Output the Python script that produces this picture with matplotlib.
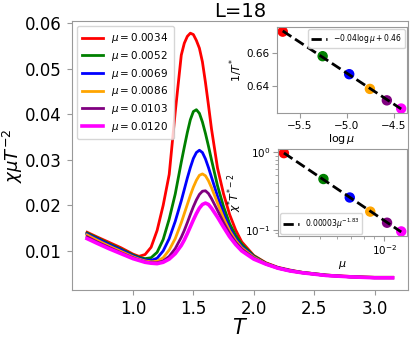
import numpy as np
import matplotlib
matplotlib.use('Agg')
import matplotlib.pyplot as plt
from matplotlib.ticker import NullFormatter

# temperature grid shared by all curves
T = [0.62, 0.7, 0.8, 0.9, 1.0, 1.05, 1.1, 1.15, 1.2, 1.25, 1.3, 1.35, 1.4,
     1.425, 1.45, 1.475, 1.5, 1.525, 1.55, 1.575, 1.6, 1.625, 1.65, 1.7,
     1.75, 1.8, 1.85, 1.9, 2.0, 2.1, 2.2, 2.3, 2.4, 2.6, 2.8, 3.0, 3.15]

mu_values = [0.0034, 0.0052, 0.0069, 0.0086, 0.0103, 0.0120]
colors = ['red', 'green', 'blue', 'orange', 'purple', 'magenta']

# chi * mu * T^-2
chi_red = [0.0141, 0.0131, 0.0119, 0.0107, 0.0093, 0.0088, 0.0092, 0.0108,
           0.0145, 0.0200, 0.0268, 0.0405, 0.0530, 0.0556, 0.0571, 0.0578,
           0.0575, 0.0562, 0.0545, 0.0515, 0.0470, 0.0420, 0.0368, 0.0282,
           0.0225, 0.0180, 0.0146, 0.0120, 0.0090, 0.0074, 0.0064, 0.0058,
           0.0053, 0.0047, 0.0044, 0.0042, 0.0042]
chi_green = [0.0139, 0.0129, 0.0116, 0.0104, 0.0091, 0.0086, 0.0083, 0.0085,
             0.0097, 0.0125, 0.0170, 0.0225, 0.0295, 0.0328, 0.0360, 0.0388,
             0.0406, 0.0410, 0.0402, 0.0383, 0.0358, 0.0330, 0.0300, 0.0243,
             0.0197, 0.0160, 0.0134, 0.0115, 0.0089, 0.0073, 0.0063, 0.0057,
             0.0053, 0.0047, 0.0043, 0.0042, 0.0042]
chi_blue = [0.0137, 0.0127, 0.0114, 0.0102, 0.0089, 0.0084, 0.0080, 0.0079,
            0.0084, 0.0100, 0.0127, 0.0165, 0.0210, 0.0235, 0.0260, 0.0283,
            0.0303, 0.0316, 0.0321, 0.0316, 0.0302, 0.0283, 0.0262, 0.0220,
            0.0182, 0.0150, 0.0127, 0.0110, 0.0087, 0.0072, 0.0063, 0.0057,
            0.0052, 0.0046, 0.0043, 0.0041, 0.0041]
chi_orange = [0.0135, 0.0124, 0.0111, 0.0099, 0.0087, 0.0082, 0.0078, 0.0076,
              0.0077, 0.0085, 0.0102, 0.0127, 0.0162, 0.0182, 0.0202, 0.0222,
              0.0240, 0.0255, 0.0266, 0.0269, 0.0265, 0.0254, 0.0239, 0.0205,
              0.0172, 0.0144, 0.0123, 0.0107, 0.0086, 0.0072, 0.0062, 0.0056,
              0.0052, 0.0046, 0.0043, 0.0041, 0.0041]
chi_purple = [0.0131, 0.0120, 0.0108, 0.0096, 0.0085, 0.0080, 0.0076, 0.0074,
              0.0074, 0.0078, 0.0088, 0.0105, 0.0130, 0.0145, 0.0162, 0.0180,
              0.0197, 0.0212, 0.0224, 0.0231, 0.0232, 0.0226, 0.0215, 0.0189,
              0.0162, 0.0138, 0.0119, 0.0104, 0.0084, 0.0071, 0.0062, 0.0056,
              0.0052, 0.0046, 0.0043, 0.0041, 0.0041]
chi_magenta = [0.0127, 0.0117, 0.0105, 0.0094, 0.0083, 0.0079, 0.0075, 0.0073,
               0.0072, 0.0075, 0.0082, 0.0094, 0.0112, 0.0124, 0.0138, 0.0153,
               0.0168, 0.0182, 0.0194, 0.0202, 0.0205, 0.0202, 0.0194, 0.0174,
               0.0152, 0.0131, 0.0114, 0.0100, 0.0082, 0.0071, 0.0062, 0.0056,
               0.0052, 0.0046, 0.0043, 0.0041, 0.0041]
curves = [chi_red, chi_green, chi_blue, chi_orange, chi_purple, chi_magenta]

# inset data: 1/T* vs log(mu) and chi* T*^-2 vs mu
inv_Tstar = [0.673, 0.658, 0.647, 0.638, 0.631, 0.626]
chi_star = [0.97, 0.45, 0.26, 0.171, 0.123, 0.095]

GRAY = '0.6'
plt.rcParams['axes.edgecolor'] = GRAY

fig = plt.figure(figsize=(4.15, 3.38), dpi=100)
ax = fig.add_axes([0.173, 0.142, 0.810, 0.796])

for mu, c, y in zip(mu_values, colors, curves):
    lw = 2.6 if c == 'magenta' else 2.0
    ax.plot(T, y, color=c, lw=lw, label=rf'$\mu = {mu:.4f}$')

ax.set_xticks([1.0, 1.5, 2.0, 2.5, 3.0])
ax.set_yticks([0.01, 0.02, 0.03, 0.04, 0.05, 0.06])
ax.tick_params(labelsize=12, color=GRAY)
ax.set_xlabel(r'$T$', fontsize=15, labelpad=0)
ax.set_ylabel(r'$\chi\mu T^{-2}$', fontsize=13, labelpad=0)
ax.set_title('L=18', fontsize=14, pad=3)
ax.legend(loc='upper left', fontsize=7.5, handlelength=2.0,
          labelspacing=0.35, borderpad=0.5)

# inset 1: peak position
logmu = np.log(mu_values)
ax1 = fig.add_axes([0.667, 0.666, 0.314, 0.254])
ax1.scatter(logmu, inv_Tstar, c=colors, s=42, zorder=2)
a, b = np.polyfit(logmu, inv_Tstar, 1)
ax1.plot(logmu, a * logmu + b, 'k--', lw=2, zorder=3,
         label=r'$-0.04\log\mu + 0.46$')
ax1.set_xlabel(r'$\log\mu$', fontsize=8, labelpad=1)
ax1.set_ylabel(r'$1/T^{*}$', fontsize=8, labelpad=1)
ax1.tick_params(labelsize=7.5, color=GRAY, pad=2)
ax1.legend(loc='upper right', fontsize=5.5, handlelength=2.0,
           borderpad=0.4, borderaxespad=0.3)

# inset 2: peak height
ax2 = fig.add_axes([0.670, 0.302, 0.311, 0.257])
ax2.scatter(mu_values, chi_star, c=colors, s=42, zorder=2)
p, lnA = np.polyfit(np.log(mu_values), np.log(chi_star), 1)
mu_arr = np.array(mu_values)
ax2.plot(mu_arr, np.exp(lnA) * mu_arr ** p, 'k--', lw=2, zorder=3,
         label=r'$0.00003\mu^{-1.83}$')
ax2.set_xscale('log')
ax2.set_yscale('log')
ax2.xaxis.set_minor_formatter(NullFormatter())
ax2.set_xlabel(r'$\mu$', fontsize=8, labelpad=1)
ax2.set_ylabel(r'$\chi^{*}T^{*-2}$', fontsize=8, labelpad=1)
ax2.tick_params(labelsize=7.5, color=GRAY, pad=2)
ax2.tick_params(which='minor', color=GRAY)
ax2.legend(loc='lower left', fontsize=5.5, handlelength=2.0,
           borderpad=0.4, borderaxespad=0.3)

fig.savefig('out.png', dpi=100)
